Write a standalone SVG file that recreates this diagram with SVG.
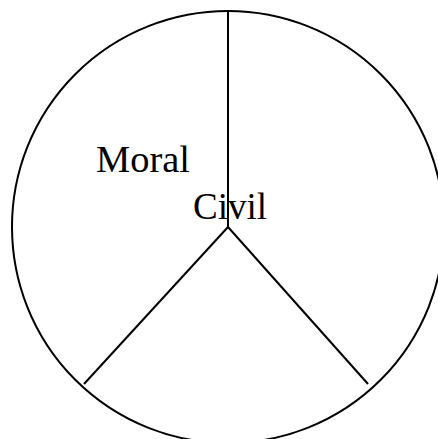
<svg xmlns="http://www.w3.org/2000/svg" width="438" height="439" viewBox="0 0 438 439">
<style>
.ln{stroke:#000;stroke-width:2;fill:none}
.t{font-family:"Liberation Serif","DejaVu Serif",serif;font-size:37px;fill:#000}
</style>
<rect width="438" height="439" fill="#fff"/>
<g id="circle"><circle class="ln" cx="228" cy="227" r="216"/></g>
<g id="connectors">
<line class="ln" x1="228" y1="227" x2="228" y2="11"/>
<line class="ln" x1="228" y1="227" x2="84" y2="384"/>
<line class="ln" x1="228" y1="227" x2="368" y2="384"/>
</g>
<g id="moral"><text class="t" x="96" y="172" textLength="94" lengthAdjust="spacingAndGlyphs">Moral</text></g>
<g id="civil"><text class="t" x="193" y="219" textLength="74" lengthAdjust="spacingAndGlyphs">Civil</text></g>
</svg>
